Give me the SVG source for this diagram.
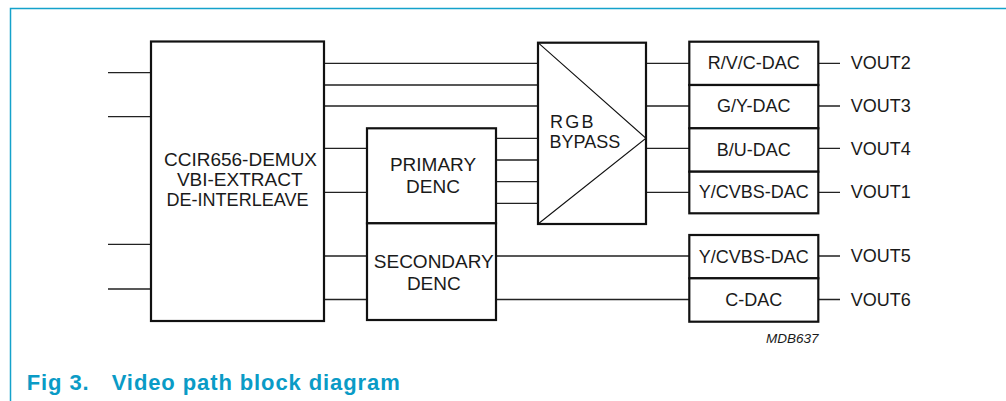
<svg xmlns="http://www.w3.org/2000/svg" width="1006" height="401" viewBox="0 0 1006 401">
<style>
.blk{fill:#fff;stroke:#111;stroke-width:2.2}
.ln{stroke:#222;stroke-width:1.3;fill:none}
.tri{stroke:#111;stroke-width:1.1;fill:none}
.t{font-family:"Liberation Sans",Arial,sans-serif;font-size:19px;fill:#1a1a1a}
.d{font-family:"Liberation Sans",Arial,sans-serif;font-size:18px;fill:#1a1a1a;text-anchor:middle}
.v{font-family:"Liberation Sans",Arial,sans-serif;font-size:18px;fill:#1a1a1a}
.c{font-family:"Liberation Sans",Arial,sans-serif;font-size:22px;font-weight:bold;fill:#0a9bc6;letter-spacing:0.9px}
</style>
<rect width="1006" height="401" fill="#fff"/>
<g id="frame">
<path d="M10.5 401 V8.5 H1006" fill="none" stroke="#14a2cb" stroke-width="1.5"/>
</g>
<g id="connectors">
<path class="ln" d="M108 72.7H151M108 116.7H151M108 244.3H151M108 289H151"/>
<path class="ln" d="M324 63.3H538M324 85H538M324 106H538"/>
<path class="ln" d="M324 148.3H367M324 192.3H367M324 256H367M324 299.5H367"/>
<path class="ln" d="M496 138.3H538M496 160H538M496 181.7H538M496 203.3H538"/>
<path class="ln" d="M646 63.3H689M646 106H689M646 148.3H689M646 192.3H689"/>
<path class="ln" d="M496 256H689M496 299.5H689"/>
<path class="ln" d="M818 63.3H840M818 106H840M818 148.3H840M818 192.3H840M818 256H840M818 299.5H840"/>
</g>
<g id="demux">
<rect class="blk" x="151" y="41.5" width="173" height="279.5"/>
<text class="t" x="240.5" y="165.7" text-anchor="middle">CCIR656-DEMUX</text>
<text class="t" x="239.7" y="185.5" text-anchor="middle">VBI-EXTRACT</text>
<text class="t" x="237.5" y="205.7" text-anchor="middle" textLength="142" lengthAdjust="spacingAndGlyphs">DE-INTERLEAVE</text>
</g>
<g id="primary-denc">
<rect class="blk" x="367" y="128.3" width="129" height="95"/>
<text class="t" x="433" y="171" text-anchor="middle">PRIMARY</text>
<text class="t" x="433" y="192.7" text-anchor="middle">DENC</text>
</g>
<g id="secondary-denc">
<rect class="blk" x="367" y="223.3" width="129" height="96.7"/>
<text class="t" x="433.8" y="268.3" text-anchor="middle">SECONDARY</text>
<text class="t" x="433.8" y="290" text-anchor="middle">DENC</text>
</g>
<g id="rgb-bypass">
<rect class="blk" x="538" y="42.7" width="108" height="181.3"/>
<path class="tri" d="M538 42.7L646 138.3L538 224"/>
<text class="v" x="550" y="127.5" letter-spacing="2.2">RGB</text>
<text class="v" x="549.5" y="148">BYPASS</text>
</g>
<g id="dac-rvc">
<rect class="blk" x="689.3" y="41.7" width="129" height="43.3"/>
<text class="d" x="753.8" y="69.3">R/V/C-DAC</text>
</g>
<g id="dac-gy">
<rect class="blk" x="689.3" y="85" width="129" height="43.3"/>
<text class="d" x="753.8" y="112.3">G/Y-DAC</text>
</g>
<g id="dac-bu">
<rect class="blk" x="689.3" y="128.3" width="129" height="43.4"/>
<text class="d" x="753.8" y="156">B/U-DAC</text>
</g>
<g id="dac-ycvbs1">
<rect class="blk" x="689.3" y="171.7" width="129" height="41.6"/>
<text class="d" x="753.8" y="198.3">Y/CVBS-DAC</text>
</g>
<g id="dac-ycvbs2">
<rect class="blk" x="689.3" y="235" width="129" height="43.3"/>
<text class="d" x="753.8" y="262.7">Y/CVBS-DAC</text>
</g>
<g id="dac-c">
<rect class="blk" x="689.3" y="278.3" width="129" height="43.4"/>
<text class="d" x="753.8" y="306">C-DAC</text>
</g>
<g id="outputs">
<text class="v" x="850.7" y="68.5">VOUT2</text>
<text class="v" x="850.7" y="111.5">VOUT3</text>
<text class="v" x="850.7" y="155">VOUT4</text>
<text class="v" x="850.7" y="198">VOUT1</text>
<text class="v" x="850.7" y="262">VOUT5</text>
<text class="v" x="850.7" y="305.5">VOUT6</text>
</g>
<text x="766" y="342.7" font-family="'Liberation Sans',Arial,sans-serif" font-size="13.5" font-style="italic" fill="#1a1a1a">MDB637</text>
<text class="c" x="26.7" y="389.5">Fig 3.</text>
<text class="c" x="111.7" y="389.5">Video path block diagram</text>
</svg>
